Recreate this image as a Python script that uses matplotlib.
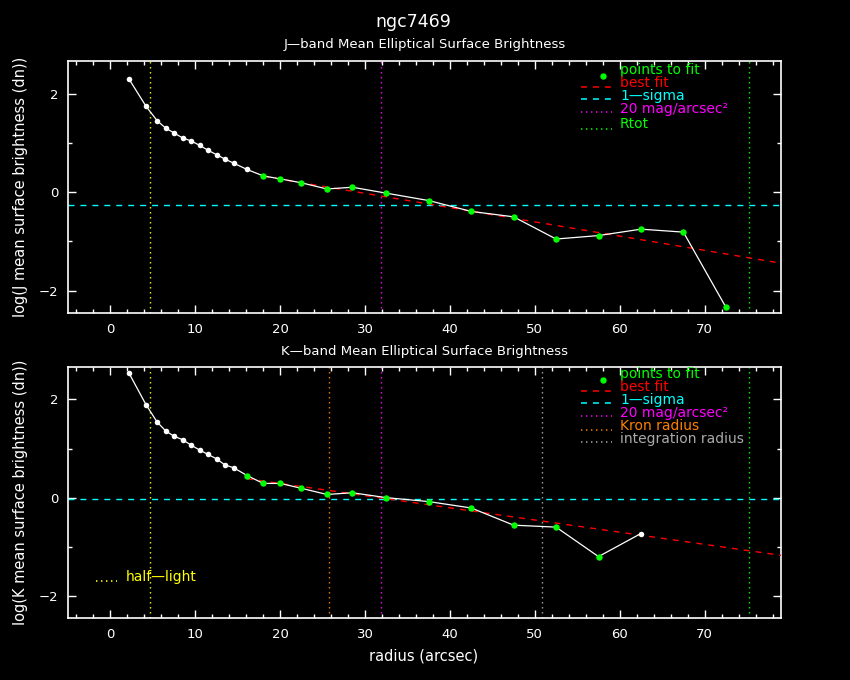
import numpy as np
import matplotlib.pyplot as plt
from matplotlib.lines import Line2D
from matplotlib.ticker import MultipleLocator

plt.rcParams['lines.scale_dashes'] = False
plt.rcParams['font.family'] = ['DejaVu Sans']

W, H = 850, 680

# J band profile (radius in arcsec, log mean surface brightness)
radius_j = [2.2, 4.2, 5.5, 6.5, 7.5, 8.5, 9.5, 10.5, 11.5, 12.5, 13.5, 14.5, 16.1,
            18.0, 20.0, 22.5, 25.5, 28.5, 32.5, 37.5, 42.5, 47.5, 52.5, 57.5, 62.5,
            67.5, 72.5]
sb_j = [2.29, 1.74, 1.45, 1.30, 1.20, 1.10, 1.04, 0.95, 0.85, 0.76, 0.67, 0.59, 0.46,
        0.33, 0.27, 0.19, 0.065, 0.10, -0.02, -0.17, -0.39, -0.50, -0.95, -0.88, -0.75,
        -0.81, -2.33]
fit_j = [False] * 13 + [True] * 14
line_j = (0.843, -0.0289)   # intercept, slope of best fit
sigma_j = -0.27

# K band profile
radius_k = [2.2, 4.2, 5.5, 6.5, 7.5, 8.5, 9.5, 10.5, 11.5, 12.5, 13.5, 14.5, 16.1,
            18.0, 20.0, 22.5, 25.5, 28.5, 32.5, 37.5, 42.5, 47.5, 52.5, 57.5, 62.5]
sb_k = [2.53, 1.89, 1.54, 1.36, 1.25, 1.18, 1.07, 0.97, 0.88, 0.79, 0.665, 0.61, 0.45,
        0.29, 0.29, 0.19, 0.065, 0.10, 0.00, -0.08, -0.21, -0.56, -0.60, -1.20, -0.73]
fit_k = [False] * 12 + [True] * 12 + [False]
line_k = (0.785, -0.0248)
sigma_k = -0.03

# characteristic radii
r_half = 4.7
r_20mag = 31.9
r_tot = 75.2
r_kron = 25.7
r_integ = 50.9

YELLOW = '#ffff00'
MAGENTA = '#ff00ff'
GREEN = '#00ff00'
CYAN = '#00ffff'
RED = '#ff0000'
ORANGE = '#ff8000'
GREY = '#aaaaaa'
DOT = (0, (1.0, 2.6))
DASH = (0, (4.3, 4.3))

fig = plt.figure(figsize=(W / 100, H / 100), dpi=100, facecolor='black')


def style_axes(ax):
    ax.set_facecolor('black')
    for s in ax.spines.values():
        s.set_color('white')
        s.set_linewidth(1.2)
    ax.set_xlim(-5, 79)
    ax.set_ylim(-2.45, 2.66)
    ax.xaxis.set_major_locator(MultipleLocator(10))
    ax.xaxis.set_minor_locator(MultipleLocator(2))
    ax.yaxis.set_major_locator(MultipleLocator(2))
    ax.yaxis.set_minor_locator(MultipleLocator(1))
    ax.tick_params(which='both', direction='in', top=True, right=True,
                   colors='white', labelsize=9.5, width=1)
    ax.tick_params(which='major', length=6, pad=7)
    ax.tick_params(which='minor', length=3)


def profile(ax, r, sb, fit, line, sigma):
    r = np.array(r)
    sb = np.array(sb)
    fit = np.array(fit)
    ax.plot(r, sb, color='white', lw=0.9, zorder=4)
    ax.plot(r[~fit], sb[~fit], 'o', color='white', ms=4.0, mec='none', zorder=5)
    ax.plot(r[fit], sb[fit], 'o', color=GREEN, ms=4.6, mec='none', zorder=5)
    xf = np.array([r[fit][0], 79])
    ax.plot(xf, line[0] + line[1] * xf, color=RED, lw=1.0, ls=DASH, zorder=3)
    ax.axhline(sigma, color=CYAN, lw=1.0, ls=DASH, zorder=2)


def vline(ax, x, color):
    ax.axvline(x, color=color, lw=1.0, ls=DOT, zorder=1)


def legend(entries):
    for kind, color, label, ty, ly in entries:
        fig.text(620 / W, 1 - ty / H, label, color=color, fontsize=10,
                 va='center', ha='left')
        if kind == 'marker':
            fig.add_artist(Line2D([603 / W], [1 - ly / H], marker='o', ms=4.6,
                                  color=color, mec='none', transform=fig.transFigure))
        else:
            fig.add_artist(Line2D([581 / W, 612 / W], [1 - ly / H, 1 - ly / H],
                                  color=color, lw=1.1, ls=kind,
                                  transform=fig.transFigure))


# top panel
ax1 = fig.add_axes([68 / W, 1 - 313 / H, 713 / W, 252 / H])
style_axes(ax1)
profile(ax1, radius_j, sb_j, fit_j, line_j, sigma_j)
vline(ax1, r_half, YELLOW)
vline(ax1, r_20mag, MAGENTA)
vline(ax1, r_tot, GREEN)
ax1.set_ylabel('log(J mean surface brightness (dn))', color='white', fontsize=10.5,
               labelpad=8)
ax1.set_title('J\u2014band Mean Elliptical Surface Brightness', color='white',
              fontsize=9.5, pad=9)

legend([
    ('marker', GREEN, 'points to fit', 70, 76),
    (DASH, RED, 'best fit', 83, 87),
    (DASH, CYAN, '1\u2014sigma', 96, 99),
    (DOT, MAGENTA, '20 mag/arcsec\u00b2', 109, 112),
    (DOT, GREEN, 'Rtot', 124, 129),
])

# bottom panel
ax2 = fig.add_axes([68 / W, 1 - 618 / H, 713 / W, 251 / H])
style_axes(ax2)
profile(ax2, radius_k, sb_k, fit_k, line_k, sigma_k)
vline(ax2, r_half, YELLOW)
vline(ax2, r_kron, ORANGE)
vline(ax2, r_20mag, MAGENTA)
vline(ax2, r_integ, GREY)
vline(ax2, r_tot, GREEN)
ax2.set_ylabel('log(K mean surface brightness (dn))', color='white', fontsize=10.5,
               labelpad=8)
ax2.set_xlabel('radius (arcsec)', color='white', fontsize=10.5)
ax2.xaxis.set_label_coords(356 / 713, -0.12)
ax2.set_title('K\u2014band Mean Elliptical Surface Brightness', color='white',
              fontsize=9.5, pad=9)

legend([
    ('marker', GREEN, 'points to fit', 374, 380),
    (DASH, RED, 'best fit', 387, 391),
    (DASH, CYAN, '1\u2014sigma', 400, 403),
    (DOT, MAGENTA, '20 mag/arcsec\u00b2', 413, 416),
    (DOT, ORANGE, 'Kron radius', 426, 430),
    (DOT, GREY, 'integration radius', 439, 442),
])

# half-light key
fig.add_artist(Line2D([96 / W, 117 / W], [1 - 581 / H, 1 - 581 / H], color=YELLOW,
                      lw=1.2, ls=DOT, transform=fig.transFigure))
fig.text(126 / W, 1 - 577 / H, 'half\u2014light', color=YELLOW, fontsize=10,
         va='center', ha='left')

fig.text(0.486, 1 - 22 / H, 'ngc7469', color='white', fontsize=12.5,
         ha='center', va='center')

fig.savefig('out.png', dpi=100, facecolor='black')
